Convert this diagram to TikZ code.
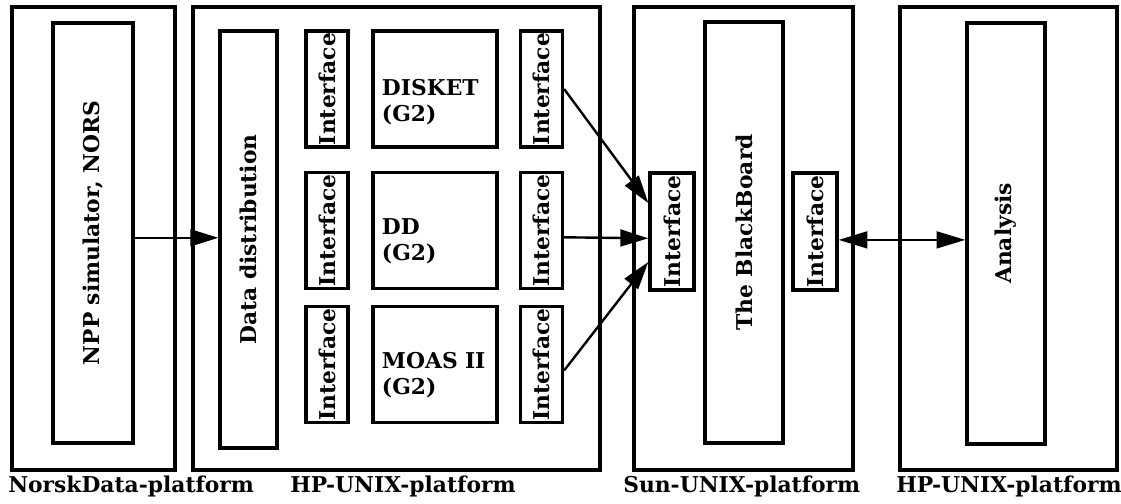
\documentclass[tikz,border=0pt]{standalone}
\usepackage{fontspec}
\setmainfont{DejaVu Serif}
\usetikzlibrary{arrows.meta, positioning, calc}

\begin{document}
\begin{tikzpicture}[
  x=0.025cm, y=-0.025cm,
  font=\fontsize{15.5}{18.5}\selectfont\bfseries,
  plat/.style = {draw, line width=2.3pt, minimum width=#1,
                 minimum height=11.575cm, inner sep=0pt},
  blk/.style n args = {2}{draw, line width=2.3pt, minimum width=#1,
                 minimum height=#2, inner sep=0pt},
  ifc/.style  = {blk={1.05cm}{2.9cm}},
  app/.style  = {blk={3.1cm}{2.9cm}},
  apptxt/.style = {align=left, text width=2.65cm, inner sep=0pt},
  flow/.style = {-{Triangle[length=0.7cm, width=0.42cm]}, line width=1.7pt},
  dflow/.style= {{Triangle[length=0.72cm, width=0.42cm]}-{Triangle[length=0.72cm, width=0.42cm]},
                 line width=1.7pt},
  pname/.style= {anchor=base west, inner sep=0pt},
]
\useasboundingbox (0,0) rectangle (1121,504);

% ── Platforms ─────────────────────────────────────────────────────────────────
\node[plat=4.075cm]  (nd)  at (93.5,238.5)   {};
\node[plat=10.175cm] (hp)  at (396.5,238.5)  {};
\node[plat=5.475cm]  (sun) at (743.5,238.5)  {};
\node[plat=5.425cm]  (hpb) at (1008.5,238.5) {};

% ── Simulator and data distribution ───────────────────────────────────────────
\node[blk={2cm}{10.5cm}]     (npp) at (93,233)    {\rotatebox{90}{NPP simulator, NORS}};
\node[blk={1.425cm}{10.425cm}] (dd) at (248.5,239.5) {\rotatebox{90}{Data distribution}};

% ── G2 applications with their interfaces ─────────────────────────────────────
\node[ifc] (ia1) at (327,89)    {\rotatebox{90}{Interface}};
\node[ifc] (ia2) at (327,230.5) {\rotatebox{90}{Interface}};
\node[ifc] (ia3) at (327,364.5) {\rotatebox{90}{Interface}};

\node[app] (disket) at (435,89)    {};
\node[app] (ddg)    at (435,230.5) {};
\node[app] (moas)   at (435,364.5) {};
\node[apptxt] (tdisket) at ([yshift=-0.33cm]disket.center) {DISKET\\(G2)};
\node[apptxt] (tddg)    at ([yshift=-0.27cm]ddg.center)    {DD\\(G2)};
\node[apptxt] (tmoas)   at ([yshift=-0.27cm]moas.center)   {MOAS II\\(G2)};

\node[ifc] (ib1) at (541.5,89)    {\rotatebox{90}{Interface}};
\node[ifc] (ib2) at (541.5,230.5) {\rotatebox{90}{Interface}};
\node[ifc] (ib3) at (541.5,364.5) {\rotatebox{90}{Interface}};

% ── Blackboard ────────────────────────────────────────────────────────────────
\node[blk={1.1cm}{2.925cm}]   (ifs) at (672,231.5) {\rotatebox{90}{Interface}};
\node[blk={1.95cm}{10.525cm}] (bb)  at (744,232.5) {\rotatebox{90}{The BlackBoard}};
\node[blk={1.1cm}{2.925cm}]   (ifb) at (815,231.5) {\rotatebox{90}{Interface}};

% ── Analysis ──────────────────────────────────────────────────────────────────
\node[blk={1.95cm}{10.525cm}] (ana) at (1006,233.5) {\rotatebox{90}{Analysis}};

% ── Connections ───────────────────────────────────────────────────────────────
\draw[flow] ([yshift=-0.12cm]npp.east) -- ([yshift=-0.12cm]npp.east -| dd.west);
\draw[flow] (ib1.east) -- ([yshift=0.71cm]ifs.west);
\draw[flow] ([yshift=-0.17cm]ib2.east) -- ([yshift=-0.17cm]ifs.west);
\draw[flow] ([yshift=-0.15cm]ib3.east) -- ([yshift=-0.76cm]ifs.west);
\draw[dflow] ([yshift=-0.21cm]ifb.east) -- ([yshift=-0.21cm]ifb.east -| ana.west);

% ── Platform names ────────────────────────────────────────────────────────────
\node[pname] (lnd)  at (8,493)   {NorskData-platform};
\node[pname] (lhp)  at (290,493) {HP-UNIX-platform};
\node[pname] (lsun) at (623,493) {Sun-UNIX-platform};
\node[pname] (lhpb) at (896,493) {HP-UNIX-platform};

\end{tikzpicture}
\end{document}
